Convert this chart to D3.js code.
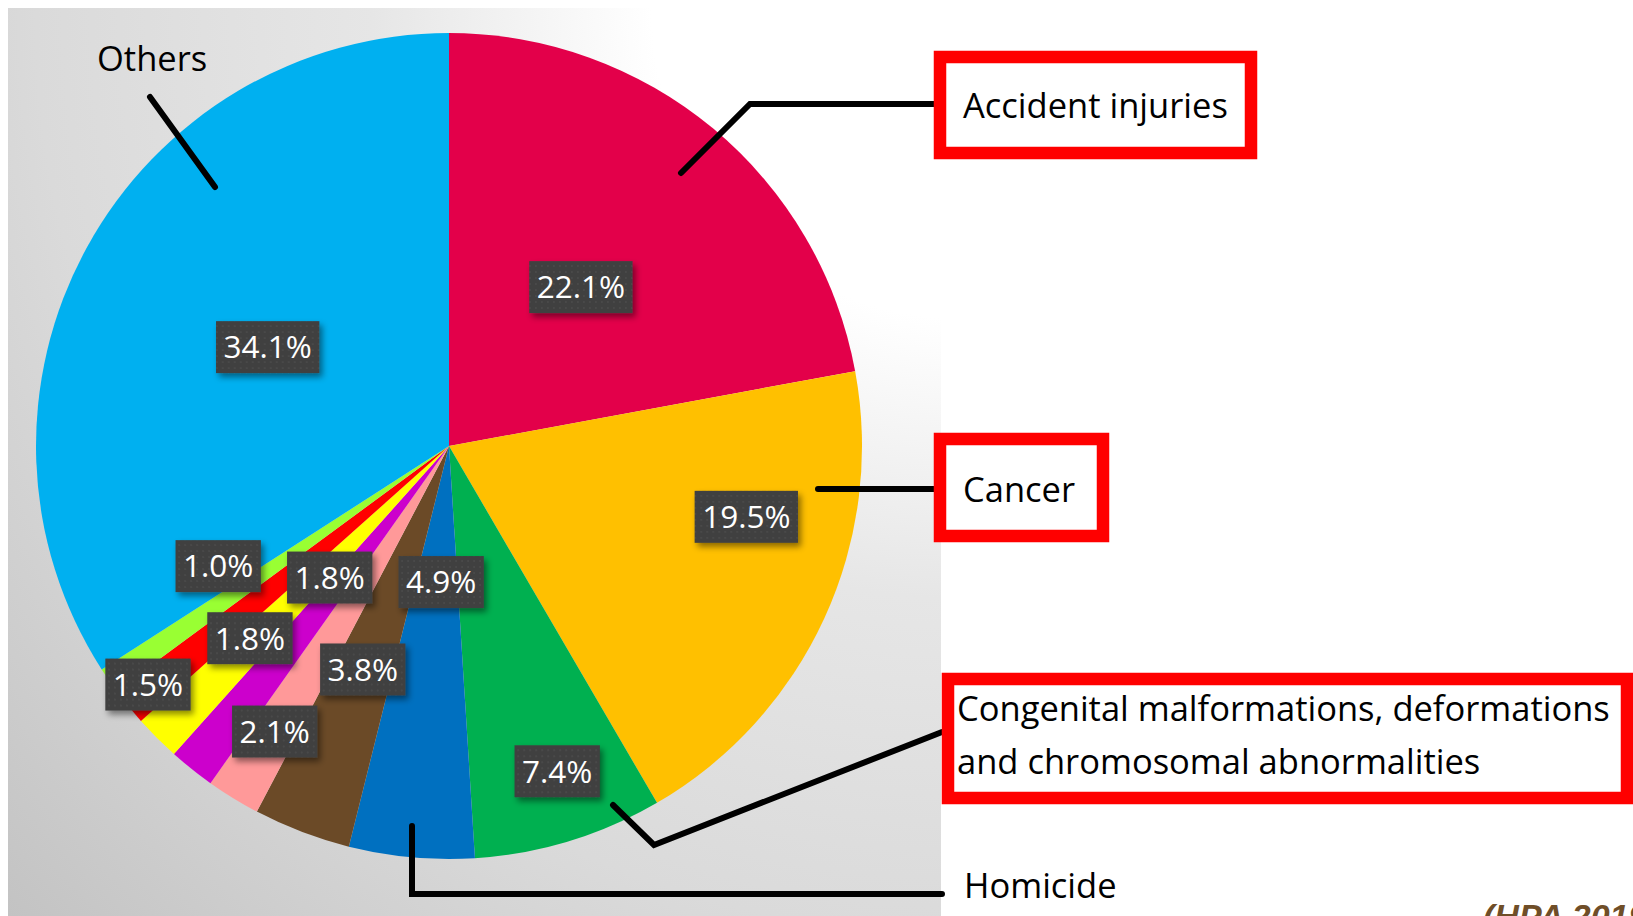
<!DOCTYPE html>
<html>
<head>
<meta charset="utf-8">
<script src="https://cdn.jsdelivr.net/npm/d3@7"></script>
<style>
  body { margin: 0; background: #fff; overflow: hidden; }
  svg { display: block; }
</style>
</head>
<body>
<svg width="1633" height="916"></svg>
<script>
// slices, clockwise from 12 o'clock
var causes = ['Accident injuries', 'Cancer', 'Congenital', 'Homicide', 'c5', 'c6', 'c7', 'c8', 'c9', 'c10', 'Others']
var shares = [22.1, 19.5, 7.4, 4.9, 3.8, 2.1, 1.8, 1.8, 1.5, 1.0, 34.1]
var colours = ['#e3004a', '#ffc000', '#00b050', '#0070c0', '#6b4a27', '#ff9999', '#cc00cc', '#ffff00', '#ff0000', '#99ff33', '#00b0f0']
// where each % box sits: [fraction of radius, angle in degrees]
var labelSpot = [[0.50, 39.7], [0.74, 103.4], [0.83, 161.6], [0.33, 183.3], [0.58, 201.1], [0.81, 211.4],
                 [0.43, 222.2], [0.67, 226.0], [0.93, 231.6], [0.63, 242.5], [0.50, 298.6]]

var cx = 449, cy = 446, R = 413

var svg = d3.select('svg')
var defs = svg.append('defs')

var grad = defs.append('radialGradient').attr('id', 'bg')
    .attr('gradientUnits', 'userSpaceOnUse')
    .attr('cx', 960).attr('cy', 10).attr('r', 1400)
grad.append('stop').attr('offset', 0).attr('stop-color', '#ffffff')
grad.append('stop').attr('offset', 0.22).attr('stop-color', '#ffffff')
grad.append('stop').attr('offset', 0.42).attr('stop-color', '#e6e6e6')
grad.append('stop').attr('offset', 0.66).attr('stop-color', '#dadada')
grad.append('stop').attr('offset', 0.95).attr('stop-color', '#c2c2c2')

var dots = defs.append('pattern').attr('id', 'dots')
    .attr('width', 6).attr('height', 6).attr('patternUnits', 'userSpaceOnUse')
dots.append('rect').attr('width', 6).attr('height', 6).attr('fill', '#404040')
dots.append('circle').attr('cx', 3).attr('cy', 3).attr('r', 0.9).attr('fill', '#4c4c4c')

var shadow = defs.append('filter').attr('id', 'shadow')
    .attr('x', '-20%').attr('y', '-20%').attr('width', '150%').attr('height', '160%')
shadow.append('feDropShadow').attr('dx', 3).attr('dy', 4).attr('stdDeviation', 3)
    .attr('flood-color', '#000').attr('flood-opacity', 0.45)

// background panel
svg.append('rect').attr('x', 8).attr('y', 8).attr('width', 933).attr('height', 920)
    .attr('fill', 'url(#bg)')

var pie = d3.pie().sort(null).value(function(d){ return d })
var arcs = pie(shares)
var arc = d3.arc().innerRadius(0).outerRadius(R)

var pieGroup = svg.append('g').attr('transform', 'translate(' + cx + ',' + cy + ')')
pieGroup.selectAll('path')
    .data(arcs)
    .enter().append('path')
    .attr('d', arc)
    .attr('fill', function(d, i){ return colours[i] })

// leader lines
var leaders = [
    [[150, 97], [215, 187]],
    [[681, 173], [750, 104], [935, 104]],
    [[818, 489], [935, 489]],
    [[613, 805], [654, 845], [942, 732]],
    [[412, 826], [412, 894], [942, 894]]
]
var line = d3.line()
svg.selectAll('.leader')
    .data(leaders)
    .enter().append('path')
    .attr('class', 'leader')
    .attr('d', line)
    .attr('fill', 'none')
    .attr('stroke', '#000')
    .attr('stroke-width', 6)
    .attr('stroke-linecap', 'round')
    .attr('stroke-linejoin', 'miter')

// percentage boxes
var labels = pieGroup.selectAll('.pct')
    .data(arcs)
    .enter().append('g')
    .attr('class', 'pct')
    .attr('transform', function(d, i){
        var a = labelSpot[i][1] * Math.PI / 180
        var r = labelSpot[i][0] * R
        return 'translate(' + (r * Math.sin(a)) + ',' + (-r * Math.cos(a)) + ')'
    })
labels.append('rect')
    .attr('fill', 'url(#dots)')
    .attr('filter', 'url(#shadow)')
labels.append('text')
    .text(function(d){ return d.value.toFixed(1) + '%' })
    .attr('text-anchor', 'middle')
    .attr('dy', '0.36em')
    .attr('fill', '#fff')
    .style('font-family', 'Open Sans, sans-serif')
    .style('font-size', '31.5px')
labels.each(function(){
    var g = d3.select(this)
    var w = g.select('text').node().getComputedTextLength() + 15
    g.select('rect').attr('x', -w / 2).attr('y', -26).attr('width', w).attr('height', 52)
})

// red frames around highlighted causes
var frames = [[940, 57, 311, 96], [940, 439, 163, 97], [948, 679, 679, 119]]
svg.selectAll('.frame')
    .data(frames)
    .enter().append('rect')
    .attr('class', 'frame')
    .attr('x', function(d){ return d[0] })
    .attr('y', function(d){ return d[1] })
    .attr('width', function(d){ return d[2] })
    .attr('height', function(d){ return d[3] })
    .attr('fill', '#fff')
    .attr('stroke', '#ff0000')
    .attr('stroke-width', 12.5)

var names = [
    ['Others', 97, 71],
    ['Accident injuries', 963, 118],
    ['Cancer', 963, 502],
    ['Congenital malformations, deformations', 957, 721],
    ['and chromosomal abnormalities', 957, 774],
    ['Homicide', 964, 898]
]
svg.selectAll('.name')
    .data(names)
    .enter().append('text')
    .attr('class', 'name')
    .text(function(d){ return d[0] })
    .attr('x', function(d){ return d[1] })
    .attr('y', function(d){ return d[2] })
    .attr('fill', '#000')
    .style('font-family', 'Open Sans, sans-serif')
    .style('font-size', '34.5px')

svg.append('text')
    .text('(HPA 2019)')
    .attr('x', 1483)
    .attr('y', 928)
    .attr('fill', '#6f4e28')
    .style('font-family', 'Liberation Sans, Arial, sans-serif')
    .style('font-weight', 'bold')
    .style('font-style', 'italic')
    .style('font-size', '34px')
</script>
</body>
</html>
